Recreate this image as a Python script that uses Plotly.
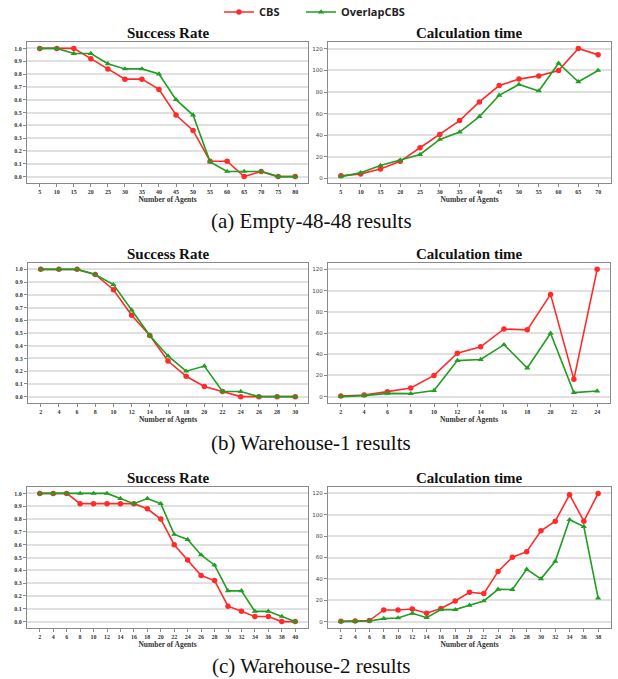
import plotly.graph_objects as go

W, H = 618, 679

# ---------------- data ----------------
# (a) Empty-48-48
a_sr_x = [5, 10, 15, 20, 25, 30, 35, 40, 45, 50, 55, 60, 65, 70, 75, 80]
a_sr_cbs = [1.0, 1.0, 1.0, 0.92, 0.84, 0.76, 0.76, 0.68, 0.48, 0.36, 0.12, 0.12, 0.0, 0.04, 0.0, 0.0]
a_sr_ov = [1.0, 1.0, 0.96, 0.96, 0.88, 0.84, 0.84, 0.80, 0.60, 0.48, 0.115, 0.04, 0.04, 0.04, 0.0, 0.0]
a_ct_x = [5, 10, 15, 20, 25, 30, 35, 40, 45, 50, 55, 60, 65, 70]
a_ct_cbs = [2.2, 4.0, 8.6, 15.7, 28.3, 40.6, 53.5, 70.8, 86.0, 92.0, 95.0, 100.0, 120.5, 114.5]
a_ct_ov = [1.5, 5.0, 11.7, 16.6, 22.0, 36.0, 42.8, 57.2, 77.0, 87.0, 81.0, 106.8, 89.5, 100.0]

# (b) Warehouse-1
b_sr_x = [2, 4, 6, 8, 10, 12, 14, 16, 18, 20, 22, 24, 26, 28, 30]
b_sr_cbs = [1.0, 1.0, 1.0, 0.96, 0.84, 0.64, 0.48, 0.28, 0.16, 0.08, 0.04, 0.0, 0.0, 0.0, 0.0]
b_sr_ov = [1.0, 1.0, 1.0, 0.96, 0.88, 0.68, 0.48, 0.32, 0.20, 0.24, 0.04, 0.04, 0.0, 0.0, 0.0]
b_ct_x = [2, 4, 6, 8, 10, 12, 14, 16, 18, 20, 22, 24]
b_ct_cbs = [0.6, 1.6, 4.7, 8.2, 20.0, 41.0, 47.0, 63.8, 63.0, 96.4, 16.3, 120.0]
b_ct_ov = [0.0, 1.0, 3.1, 2.8, 5.7, 34.0, 35.0, 49.0, 27.0, 59.7, 3.8, 5.3]

# (c) Warehouse-2
c_sr_x = [2, 4, 6, 8, 10, 12, 14, 16, 18, 20, 22, 24, 26, 28, 30, 32, 34, 36, 38, 40]
c_sr_cbs = [1.0, 1.0, 1.0, 0.92, 0.92, 0.92, 0.92, 0.92, 0.88, 0.80, 0.60, 0.48, 0.36, 0.32, 0.12, 0.08, 0.04, 0.04, 0.0, 0.0]
c_sr_ov = [1.0, 1.0, 1.0, 1.0, 1.0, 1.0, 0.96, 0.92, 0.96, 0.92, 0.68, 0.64, 0.52, 0.44, 0.24, 0.24, 0.08, 0.08, 0.04, 0.0]
c_ct_x = [2, 4, 6, 8, 10, 12, 14, 16, 18, 20, 22, 24, 26, 28, 30, 32, 34, 36, 38]
c_ct_cbs = [0.3, 0.6, 1.0, 10.9, 10.9, 11.8, 7.8, 12.2, 19.3, 27.4, 26.2, 47.0, 60.2, 65.5, 85.0, 94.0, 118.8, 94.0, 120.0]
c_ct_ov = [0.0, 0.3, 0.6, 2.8, 3.4, 7.8, 3.7, 11.2, 11.2, 15.3, 19.3, 30.2, 30.0, 49.0, 40.0, 56.4, 95.4, 89.0, 22.0]

series_names = ["CBS", "OverlapCBS"]
panel_titles = ["Success Rate", "Calculation time"]
captions = ["(a) Empty-48-48 results", "(b) Warehouse-1 results", "(c) Warehouse-2 results"]
x_title = "Number of Agents"

RED = "#ff2b2b"
GREEN = "#229c22"

panels = [
    (a_sr_x, a_sr_cbs, a_sr_ov, "sr", (27, 308, 42, 183)),
    (a_ct_x, a_ct_cbs, a_ct_ov, "ct", (328, 611, 42, 183)),
    (b_sr_x, b_sr_cbs, b_sr_ov, "sr", (28, 308, 263, 403)),
    (b_ct_x, b_ct_cbs, b_ct_ov, "ct", (328, 610, 263, 403)),
    (c_sr_x, c_sr_cbs, c_sr_ov, "sr", (27, 308, 487, 628)),
    (c_ct_x, c_ct_cbs, c_ct_ov, "ct", (328, 611, 487, 628)),
]
caption_y = [221, 443, 666]

fig = go.Figure()
layout = {}
annotations = []

def px_x(v):
    return v / W

def px_y(v):
    return 1 - v / H

for i, (xs, ycbs, yov, kind, (x0, x1, y0, y1)) in enumerate(panels):
    n = i + 1
    xa = "x" if n == 1 else f"x{n}"
    ya = "y" if n == 1 else f"y{n}"
    fig.add_trace(go.Scatter(
        x=xs, y=ycbs, mode="lines+markers", name=series_names[0],
        line=dict(color=RED, width=1.6),
        marker=dict(symbol="circle", size=5.5, color=RED),
        xaxis=xa, yaxis=ya, showlegend=(n == 1), legendgroup="cbs", legend="legend",
    ))
    fig.add_trace(go.Scatter(
        x=xs, y=yov, mode="lines+markers", name=series_names[1],
        line=dict(color=GREEN, width=1.6),
        marker=dict(symbol="triangle-up", size=5.5, color=GREEN),
        xaxis=xa, yaxis=ya, showlegend=(n == 1), legendgroup="ov", legend="legend2",
    ))
    span = xs[-1] - xs[0]
    xr = [xs[0] - 0.05 * span, xs[-1] + 0.05 * span]
    allv = ycbs + yov
    vmin, vmax = min(allv), max(allv)
    vs = vmax - vmin
    yr = [vmin - 0.05 * vs, vmax + 0.05 * vs]
    if kind == "sr":
        ytv = [k / 10 for k in range(11)]
        ytt = [f"{k/10:.1f}" for k in range(11)]
        yfont = dict(family="Liberation Serif", size=6, color="#333", weight="bold")
    else:
        ytv = list(range(0, 121, 20))
        ytt = [str(v) for v in ytv]
        yfont = dict(family="DejaVu Sans", size=5.5, color="#444")
    axkey = "xaxis" if n == 1 else f"xaxis{n}"
    aykey = "yaxis" if n == 1 else f"yaxis{n}"
    layout[axkey] = dict(
        domain=[px_x(x0), px_x(x1)], anchor=ya, range=xr, automargin=False,
        tickmode="array", tickvals=xs, ticktext=[str(v) for v in xs],
        showgrid=False, zeroline=False,
        showline=True, mirror=True, linecolor="#8a8a8a", linewidth=1.3,
        ticks="outside", ticklen=3, tickcolor="#8a8a8a", tickwidth=1,
        tickfont=dict(family="Liberation Serif", size=6, color="#333", weight="bold"),
        title=dict(text=x_title, font=dict(family="Liberation Serif", size=7.5, color="#333", weight="bold"), standoff=2),
    )
    layout[aykey] = dict(
        domain=[px_y(y1), px_y(y0)], anchor=xa, range=yr, automargin=False,
        tickmode="array", tickvals=ytv, ticktext=ytt,
        showgrid=True, gridcolor="#e0e0e0", gridwidth=1.6, zeroline=False,
        showline=True, mirror=True, linecolor="#8a8a8a", linewidth=1.3,
        ticks="outside", ticklen=3, tickcolor="#8a8a8a", tickwidth=1,
        tickfont=yfont,
    )
    title = panel_titles[0] if kind == "sr" else panel_titles[1]
    annotations.append(dict(
        text=title, xref="paper", yref="paper",
        x=px_x((x0 + x1) / 2), y=px_y(y0 - 9), xanchor="center", yanchor="middle",
        showarrow=False, font=dict(family="Liberation Serif", size=15, color="#111", weight="bold"),
    ))

for cap, cy in zip(captions, caption_y):
    annotations.append(dict(
        text=cap, xref="paper", yref="paper", x=px_x(311), y=px_y(cy),
        xanchor="center", yanchor="middle", showarrow=False,
        font=dict(family="Liberation Serif", size=21, color="#111"),
    ))

leg_font = dict(family="Open Sans", size=11, color="#222", weight="bold")
fig.update_layout(
    width=W, height=H,
    margin=dict(l=0, r=0, t=0, b=0, autoexpand=False),
    paper_bgcolor="white", plot_bgcolor="white",
    showlegend=True,
    legend=dict(
        orientation="h", x=px_x(219), y=px_y(12), xanchor="left", yanchor="middle",
        font=leg_font, bgcolor="rgba(0,0,0,0)", itemwidth=30,
    ),
    legend2=dict(
        orientation="h", x=px_x(301), y=px_y(12), xanchor="left", yanchor="middle",
        font=leg_font, bgcolor="rgba(0,0,0,0)", itemwidth=30,
    ),
    annotations=annotations,
    **layout,
)

fig.write_html(
    "out.html",
    config={"displayModeBar": False},
    post_script="document.body.style.margin='0';document.body.style.overflow='hidden';",
)
